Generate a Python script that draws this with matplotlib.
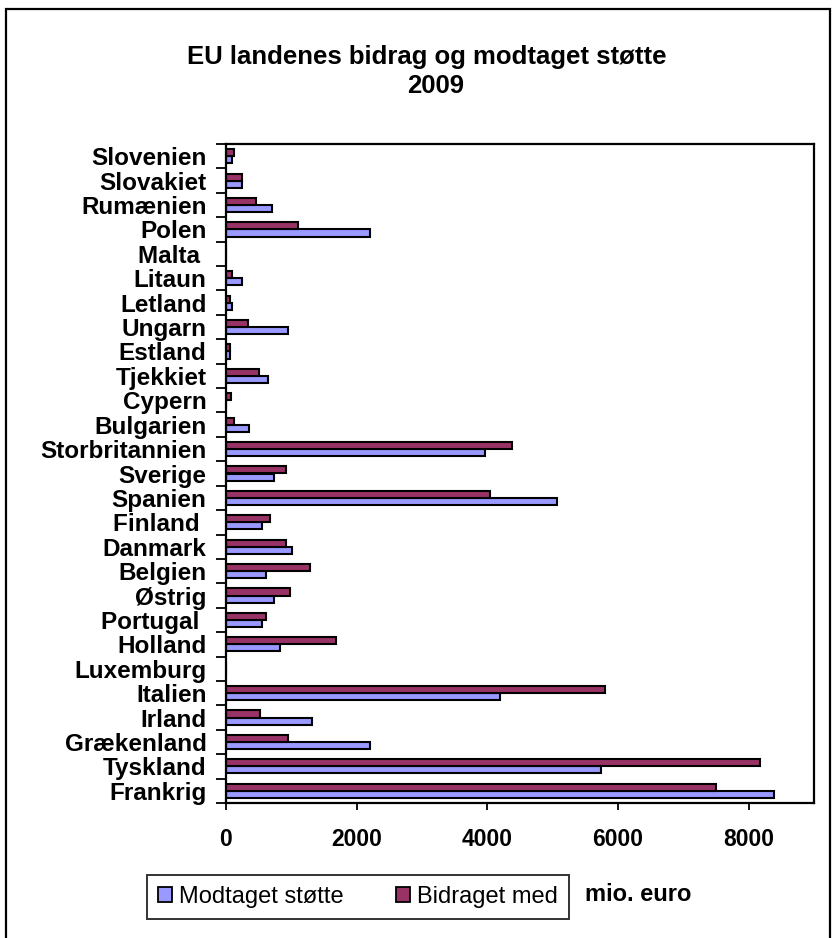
import matplotlib

matplotlib.use("Agg")
import matplotlib.pyplot as plt
import numpy as np
from matplotlib.patches import Rectangle

plt.rcParams["font.family"] = ["Liberation Sans", "DejaVu Sans"]

# bottom to top, as in the chart
countries = [
    "Frankrig", "Tyskland", "Grækenland", "Irland", "Italien", "Luxemburg",
    "Holland", "Portugal ", "Østrig", "Belgien", "Danmark", "Finland ",
    "Spanien", "Sverige", "Storbritannien", "Bulgarien", "Cypern",
    "Tjekkiet", "Estland", "Ungarn", "Letland", "Litaun", "Malta ",
    "Polen", "Rumænien", "Slovakiet", "Slovenien",
]
received = [
    8390, 5740, 2200, 1315, 4190, 0,
    820, 550, 735, 615, 1010, 550,
    5070, 735, 3970, 345, 0,
    645, 60, 950, 90, 245, 0,
    2200, 700, 240, 85,
]
contributed = [
    7505, 8175, 950, 525, 5805, 0,
    1680, 615, 980, 1290, 925, 680,
    4035, 925, 4370, 120, 70,
    500, 60, 340, 60, 90, 0,
    1100, 455, 245, 120,
]
x_ticks = [0, 2000, 4000, 6000, 8000]

W, H = 832, 938
fig = plt.figure(figsize=(W / 100, H / 100), dpi=100)

# outer frame round the chart (bottom edge falls outside the picture)
fig.patches.append(
    Rectangle((6 / W, -0.01), 824 / W, 1 - 9 / H + 0.01,
              transform=fig.transFigure, fill=False,
              edgecolor="black", linewidth=1.6)
)

left, right, top, bottom = 226, 814, 144, 803
ax = fig.add_axes([left / W, 1 - bottom / H, (right - left) / W, (bottom - top) / H])

y = np.arange(len(countries))
bar_h = 0.29
ax.barh(y - bar_h / 2, received, height=bar_h, color="#9999FF",
        edgecolor="black", linewidth=1.5, label="Modtaget støtte")
ax.barh(y + bar_h / 2, contributed, height=bar_h, color="#993366",
        edgecolor="black", linewidth=1.5, label="Bidraget med")

ax.set_xlim(0, 9000)
ax.set_ylim(-0.5, len(countries) - 0.5)

ax.set_yticks(y)
ax.set_yticklabels(countries, fontsize=17.5, fontweight="bold")
ax.set_yticks(np.arange(-0.5, len(countries)), minor=True)
ax.tick_params(axis="y", which="major", length=0, pad=14)
ax.tick_params(axis="y", which="minor", length=7, width=1.3, direction="out")

ax.set_xticks(x_ticks)
ax.set_xticklabels([str(t) for t in x_ticks], fontsize=16.5, fontweight="bold")
ax.tick_params(axis="x", length=5, width=1.3, direction="out", pad=13)

for s in ax.spines.values():
    s.set_linewidth(1.6)

fig.text(427 / W, 1 - 57 / H, "EU landenes bidrag og modtaget støtte",
         ha="center", va="center", fontsize=18.5, fontweight="bold")
fig.text(436 / W, 1 - 86 / H, "2009",
         ha="center", va="center", fontsize=18.5, fontweight="bold")

leg = fig.legend(
    loc="center", bbox_to_anchor=(358 / W, 1 - 897 / H), ncol=2,
    fontsize=17, frameon=True, fancybox=False, edgecolor="black",
    handlelength=0.6, handleheight=0.6, handletextpad=0.3,
    columnspacing=2.2, borderpad=0.45,
)
leg.get_frame().set_linewidth(1.4)
for h in leg.legend_handles:
    h.set_linewidth(1.3)

fig.text(638 / W, 1 - 894 / H, "mio. euro", ha="center", va="center",
         fontsize=17, fontweight="bold")

fig.savefig("out.png", dpi=100)
